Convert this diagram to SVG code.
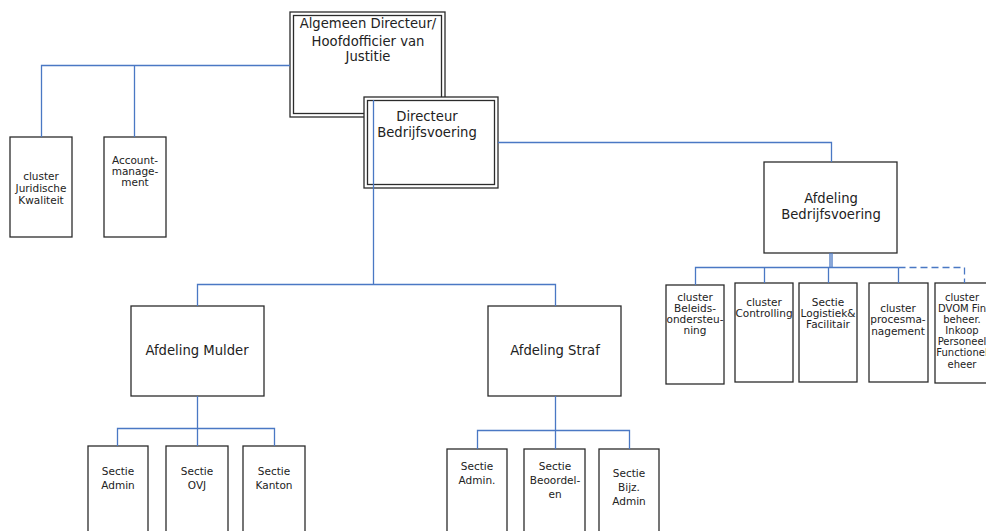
<svg xmlns="http://www.w3.org/2000/svg" width="986" height="531" viewBox="0 0 986 531">
<style>
.b{fill:#fff;stroke:#2b2b2b;stroke-width:1.3}
.t{font-family:"DejaVu Sans",Verdana,sans-serif;fill:#222;text-anchor:middle}
.l{font-size:13.2px}
.s{font-size:10.5px}
.x{font-size:10px}
.c{fill:none;stroke:#4a78c4;stroke-width:1.3}
.d{stroke-dasharray:7,4}
</style>
<rect width="986" height="531" fill="#fff"/>
<g id="algemeen-directeur">
<rect class="b" x="290" y="12" width="155" height="105"/>
<rect class="b" x="293.5" y="15.5" width="148" height="98"/>
<text class="t l" x="368" y="28">Algemeen Directeur/</text>
<text class="t l" x="368" y="46">Hoofdofficier van</text>
<text class="t l" x="368" y="61">Justitie</text>
</g>
<g id="directeur-bedrijfsvoering">
<rect class="b" x="364" y="97" width="134" height="91"/>
<rect class="b" x="367.5" y="100.5" width="127" height="84"/>
<text class="t l" x="427" y="121">Directeur</text>
<text class="t l" x="427" y="137">Bedrijfsvoering</text>
</g>
<g id="cluster-juridische-kwaliteit">
<rect class="b" x="10" y="137" width="62" height="100"/>
<text class="t s" x="41" y="180">cluster</text>
<text class="t s" x="41" y="192">Juridische</text>
<text class="t s" x="41" y="204">Kwaliteit</text>
</g>
<g id="accountmanagement">
<rect class="b" x="104" y="137" width="62" height="100"/>
<text class="t s" x="135" y="164">Account-</text>
<text class="t s" x="135" y="175">manage-</text>
<text class="t s" x="135" y="186">ment</text>
</g>
<g id="afdeling-bedrijfsvoering">
<rect class="b" x="764" y="162" width="133" height="91"/>
<text class="t l" x="831" y="203">Afdeling</text>
<text class="t l" x="831" y="219">Bedrijfsvoering</text>
</g>
<g id="cluster-beleidsondersteuning">
<rect class="b" x="666" y="285" width="58" height="99"/>
<text class="t s" x="695" y="301">cluster</text>
<text class="t s" x="695" y="312">Beleids-</text>
<text class="t s" x="695" y="323">ondersteu-</text>
<text class="t s" x="695" y="334">ning</text>
</g>
<g id="cluster-controlling">
<rect class="b" x="735" y="283" width="58" height="99"/>
<text class="t s" x="764" y="306">cluster</text>
<text class="t s" x="764" y="317">Controlling</text>
</g>
<g id="sectie-logistiek">
<rect class="b" x="799" y="283" width="58" height="99"/>
<text class="t s" x="828" y="306">Sectie</text>
<text class="t s" x="828" y="317">Logistiek&amp;</text>
<text class="t s" x="828" y="328">Facilitair</text>
</g>
<g id="cluster-procesmanagement">
<rect class="b" x="869" y="283" width="59" height="99"/>
<text class="t s" x="898" y="312">cluster</text>
<text class="t s" x="898" y="323">procesma-</text>
<text class="t s" x="898" y="335">nagement</text>
</g>
<g id="cluster-dvom">
<rect class="b" x="935" y="283" width="60" height="100"/>
<text class="t x" x="962" y="301">cluster</text>
<text class="t x" x="962" y="312">DVOM Fin</text>
<text class="t x" x="962" y="323">beheer.</text>
<text class="t x" x="962" y="334">Inkoop</text>
<text class="t x" x="962" y="345">Personeel</text>
<text class="t x" x="962" y="356">Functionel</text>
<text class="t x" x="962" y="368">eheer</text>
</g>
<g id="afdeling-mulder">
<rect class="b" x="131" y="306" width="133" height="90"/>
<text class="t l" x="197" y="355">Afdeling Mulder</text>
</g>
<g id="afdeling-straf">
<rect class="b" x="488" y="306" width="133" height="90"/>
<text class="t l" x="555" y="355">Afdeling Straf</text>
</g>
<g id="sectie-admin-mulder">
<rect class="b" x="88" y="446" width="60" height="95"/>
<text class="t s" x="118" y="475">Sectie</text>
<text class="t s" x="118" y="489">Admin</text>
</g>
<g id="sectie-ovj">
<rect class="b" x="166" y="446" width="62" height="95"/>
<text class="t s" x="197" y="475">Sectie</text>
<text class="t s" x="197" y="489">OVJ</text>
</g>
<g id="sectie-kanton">
<rect class="b" x="243" y="446" width="62" height="95"/>
<text class="t s" x="274" y="475">Sectie</text>
<text class="t s" x="274" y="489">Kanton</text>
</g>
<g id="sectie-admin-straf">
<rect class="b" x="447" y="449" width="60" height="95"/>
<text class="t s" x="477" y="470">Sectie</text>
<text class="t s" x="477" y="484">Admin.</text>
</g>
<g id="sectie-beoordelen">
<rect class="b" x="524" y="449" width="61" height="95"/>
<text class="t s" x="555" y="470">Sectie</text>
<text class="t s" x="555" y="484">Beoordel-</text>
<text class="t s" x="555" y="498">en</text>
</g>
<g id="sectie-bijz-admin">
<rect class="b" x="599" y="449" width="60" height="95"/>
<text class="t s" x="629" y="477">Sectie</text>
<text class="t s" x="629" y="491">Bijz.</text>
<text class="t s" x="629" y="505">Admin</text>
</g>
<g id="connectors">
<path class="c" d="M290 65.5H41.5V137M134.5 65.5V137"/>
<path class="c" d="M373.5 100V284.5H197.5V306M373.5 284.5H555.5V306"/>
<path class="c" d="M498 142.5H831.5V162"/>
<path class="c" d="M830 253V267.5M832 253V267.5M695.5 285V267.5H898.5M764.5 267.5V283M828.5 267.5V283M898.5 267.5V283"/>
<path class="c d" d="M898.5 267.5H964.5V283"/>
<path class="c" d="M197.5 396V428.5H117.5V446M197.5 428.5V446M197.5 428.5H274.5V446"/>
<path class="c" d="M555.5 396V430.5H477.5V449M555.5 430.5V449M555.5 430.5H629.5V449"/>
</g>
</svg>
